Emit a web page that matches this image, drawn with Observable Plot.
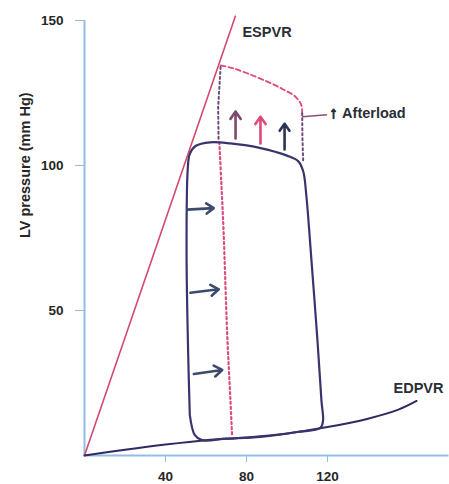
<!DOCTYPE html>
<html>
<head>
<meta charset="utf-8">
<script src="https://cdn.jsdelivr.net/npm/d3@7"></script>
<script src="https://cdn.jsdelivr.net/npm/@observablehq/plot@0.6"></script>
<style>
  html, body { margin: 0; padding: 0; background: #fff; }
  #chart svg { display: block; }
</style>
</head>
<body>
<div id="chart"></div>
<script>
// ---- data (volume in ml, pressure in mm Hg) ----
const xTicks = [40, 80, 120];
const yTicks = [50, 100, 150];
const yLabel = "LV pressure (mm Hg)";

const espvrV = [0, 74.5];
const espvrP = [0, 151.5];

const edpvrV = [0, 20, 40, 60, 80, 100, 120, 140, 155, 164];
const edpvrP = [0, 2.0, 3.8, 5.3, 6.2, 7.6, 9.8, 12.7, 15.8, 18.8];

// baseline pressure-volume loop
const loopV = [52.0, 54.5, 58, 70, 87, 105, 116.5, 117.8, 117.0, 115, 112, 109.5, 108, 105.5, 100, 87, 72, 62, 55, 52, 51, 50.4, 51.2, 52.0];
const loopP = [14, 7.0, 5.3, 5.8, 6.4, 8.1, 9.5, 12, 19, 40, 68, 90, 98, 101.5, 103.4, 106, 107.6, 108, 106.8, 104, 99, 70, 35, 14];

// increased-afterload loop (dashed parts)
const afterTopV = [67.2, 73, 80.3, 90, 98, 104, 107, 107.5];
const afterTopP = [134.5, 133.6, 131.8, 129, 126.3, 123.8, 121, 118];
const afterRightV = [107.5, 107.6, 108];
const afterRightP = [118, 110, 101];
const afterLeftUpV = [67.2, 66.0, 66.2];
const afterLeftUpP = [134, 120, 109];
const afterLeftV = [66.6, 67.5, 68.7, 70.4, 72, 72.9];
const afterLeftP = [108, 95, 77, 43, 20, 6.6];

// arrows
const upArrowX = [74.6, 86.9, 98.8];
const upArrowY1 = [109.3, 107.6, 105.5];
const upArrowY2 = [118.6, 116.8, 114.4];
const upArrowColor = ["#7d4a6c", "#dd4a7c", "#2d3452"];

const rightArrowX1 = [50.7, 52.3, 54.0];
const rightArrowX2 = [63.8, 66.3, 68.0];
const rightArrowY1 = [84.8, 56.1, 28.1];
const rightArrowY2 = [85.3, 57.3, 29.5];

const leaderV = [107.7, 119.5];
const leaderP = [116.8, 117.5];

const labels = [
  {text: "ESPVR", v: 78, p: 146},
  {text: "EDPVR", v: 152.6, p: 23},
  {text: "Afterload", v: 127.2, p: 118}
];
const arrowGlyph = [{text: "\u2191", v: 120.9, p: 118.3}];

// ---- build tables ----
const pts = (V, P) => V.map((v, i) => ({v, p: P[i]}));
const upArrows = upArrowX.map((x, i) => ({x, y1: upArrowY1[i], y2: upArrowY2[i], c: upArrowColor[i]}));
const rightArrows = rightArrowX1.map((x1, i) => ({x1, x2: rightArrowX2[i], y1: rightArrowY1[i], y2: rightArrowY2[i]}));

const axisBlue = "#93bde3";
const pink = "#dd4a7c";
const navy = "#3a346e";
const font = "'Liberation Sans', Arial, Helvetica, sans-serif";

const chart = Plot.plot({
  width: 449,
  height: 484,
  marginLeft: 84,
  marginRight: 0.5,
  marginTop: 20,
  marginBottom: 29,
  style: {fontFamily: font, fontWeight: "bold", fontSize: "13px", background: "#fff"},
  x: {domain: [0, 180]},
  y: {domain: [0, 150]},
  marks: [
    Plot.axisY({ticks: yTicks, tickSize: 9, tickPadding: 12, stroke: axisBlue, color: "#262626", label: null, fontSize: 13.5}),
    Plot.axisX({ticks: xTicks, tickSize: 7, tickPadding: 9, stroke: axisBlue, color: "#262626", label: null, fontSize: 13.5}),
    Plot.ruleX([0], {y1: 0, y2: 150, stroke: axisBlue, strokeWidth: 2}),
    Plot.ruleY([0], {stroke: axisBlue, strokeWidth: 2}),
    Plot.text([yLabel], {frameAnchor: "left", dx: -59, rotate: -90, fontSize: 14.5, fill: "#262626"}),

    // ESPVR
    Plot.line(pts(espvrV, espvrP), {x: "v", y: "p", stroke: "#d24a6c", strokeWidth: 1.6}),
    // EDPVR
    Plot.line(pts(edpvrV, edpvrP), {x: "v", y: "p", stroke: "#2f2b62", strokeWidth: 2, curve: "catmull-rom"}),

    // afterload loop
    Plot.line(pts(afterTopV, afterTopP), {x: "v", y: "p", stroke: pink, strokeWidth: 1.8, strokeDasharray: "5,3", curve: "catmull-rom"}),
    Plot.line(pts(afterRightV, afterRightP), {x: "v", y: "p", stroke: "#6d4a78", strokeWidth: 2, strokeDasharray: "2,3"}),
    Plot.line(pts(afterLeftUpV, afterLeftUpP), {x: "v", y: "p", stroke: "#6d4a78", strokeWidth: 2, strokeDasharray: "2,3"}),
    Plot.line(pts(afterLeftV, afterLeftP), {x: "v", y: "p", stroke: pink, strokeWidth: 2.2, strokeDasharray: "2,3", curve: "catmull-rom"}),

    // baseline loop
    Plot.line(pts(loopV, loopP), {x: "v", y: "p", stroke: navy, strokeWidth: 2.2, curve: "catmull-rom"}),

    // arrows
    Plot.arrow(upArrows, {x1: "x", x2: "x", y1: "y1", y2: "y2", stroke: "c", strokeWidth: 2.6, headLength: 7, headAngle: 70}),
    Plot.arrow(rightArrows, {x1: "x1", x2: "x2", y1: "y1", y2: "y2", stroke: "#3c4a6e", strokeWidth: 2.6, headLength: 7, headAngle: 70}),

    // leader + labels
    Plot.line(pts(leaderV, leaderP), {x: "v", y: "p", stroke: "#8a5070", strokeWidth: 1.5}),
    Plot.text(labels, {x: "v", y: "p", text: "text", textAnchor: "start", fontSize: 14.5, fill: "#2a2e36"}),
    Plot.text(arrowGlyph, {x: "v", y: "p", text: "text", textAnchor: "start", fontSize: 16, fill: "#2a2e36", stroke: "#2a2e36", strokeWidth: 1.2})
  ]
});
document.getElementById("chart").append(chart);
</script>
</body>
</html>
